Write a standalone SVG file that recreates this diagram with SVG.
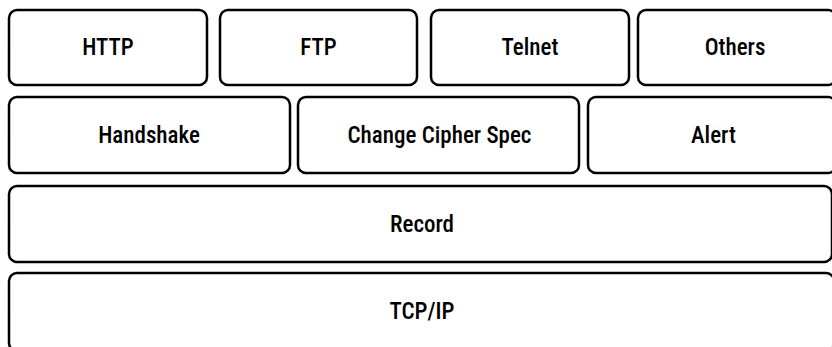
<svg xmlns="http://www.w3.org/2000/svg" width="832" height="347" viewBox="0 0 832 347">
<style>
.b{fill:#fff;stroke:#000;stroke-width:2.5}
.t{font-family:"Roboto Condensed","Liberation Sans Narrow",Roboto,"Liberation Sans",sans-serif;font-size:23px;font-weight:500;text-anchor:middle;fill:#000}
</style>
<rect width="832" height="347" fill="#fff"/>
<g id="http"><rect class="b" x="9" y="10" width="198" height="75" rx="8"/><text class="t" x="108" y="55">HTTP</text></g>
<g id="ftp"><rect class="b" x="220" y="10" width="197" height="75" rx="8"/><text class="t" x="318.5" y="55">FTP</text></g>
<g id="telnet"><rect class="b" x="431" y="10" width="198" height="75" rx="8"/><text class="t" x="530" y="55">Telnet</text></g>
<g id="others"><rect class="b" x="638" y="10" width="198" height="75" rx="8"/><text class="t" x="735" y="55">Others</text></g>
<g id="handshake"><rect class="b" x="9" y="97" width="281" height="76" rx="8"/><text class="t" x="149" y="143">Handshake</text></g>
<g id="ccs"><rect class="b" x="298" y="97" width="281" height="76" rx="8"/><text class="t" x="439.5" y="143">Change Cipher Spec</text></g>
<g id="alert"><rect class="b" x="588" y="97" width="248" height="76" rx="8"/><text class="t" x="713.5" y="143">Alert</text></g>
<g id="record"><rect class="b" x="9" y="186" width="823" height="76" rx="8"/><text class="t" x="422" y="232">Record</text></g>
<g id="tcpip"><rect class="b" x="9" y="273" width="825" height="78" rx="8"/><text class="t" x="422" y="319">TCP/IP</text></g>
<g id="connectors"></g>
</svg>
